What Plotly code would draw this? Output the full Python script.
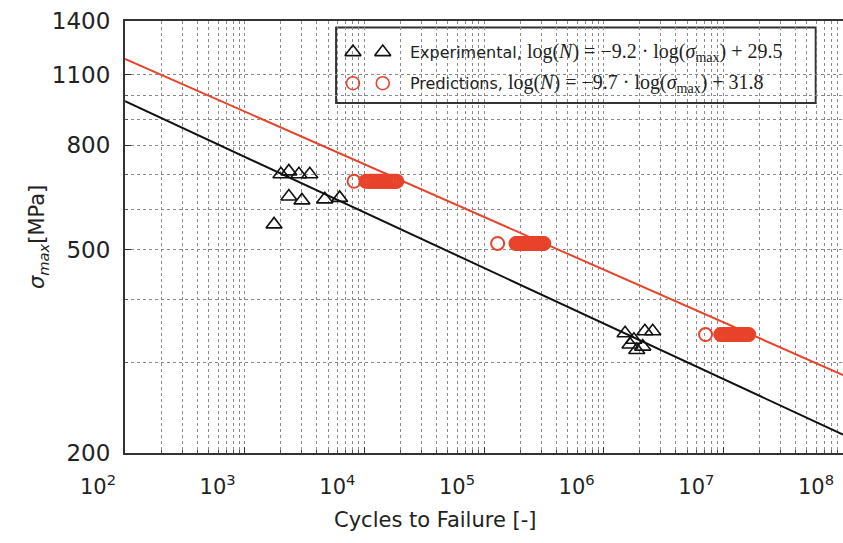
import numpy as np
import plotly.graph_objects as go

# ---- data -------------------------------------------------------------
# Experimental fatigue tests (cycles to failure, max stress in MPa)
exp_cycles = [2010, 2340, 2840, 3500, 2340, 3010, 4670, 6220, 1760,
              1.51e6, 2.21e6, 2.57e6, 1.66e6, 1.89e6, 2.12e6, 1.79e6]
exp_stress = [702, 711, 702, 702, 635, 624, 627, 631, 560,
              343, 346, 346, 326, 318, 323, 333]

# Model predictions at three stress levels
pred_cycles_hi = [8.2e3,
                  1.03e4, 1.06e4, 1.09e4, 1.12e4, 1.15e4, 1.19e4, 1.22e4, 1.26e4,
                  1.29e4, 1.33e4, 1.37e4, 1.41e4, 1.45e4, 1.49e4, 1.53e4, 1.58e4,
                  1.62e4, 1.67e4, 1.72e4, 1.77e4, 1.82e4, 1.87e4]
pred_cycles_mid = [1.30e5,
                   1.85e5, 1.90e5, 1.95e5, 2.00e5, 2.05e5, 2.10e5, 2.15e5, 2.21e5,
                   2.27e5, 2.33e5, 2.39e5, 2.45e5, 2.51e5, 2.57e5, 2.64e5, 2.71e5,
                   2.78e5, 2.85e5, 2.92e5, 3.00e5, 3.08e5, 3.16e5]
pred_cycles_lo = [7.1e6,
                  9.5e6, 9.75e6, 1.00e7, 1.025e7, 1.05e7, 1.08e7, 1.11e7, 1.14e7,
                  1.17e7, 1.20e7, 1.23e7, 1.26e7, 1.29e7, 1.32e7, 1.36e7, 1.40e7,
                  1.44e7, 1.47e7, 1.51e7, 1.55e7, 1.59e7, 1.63e7]
pred_stress_levels = [680, 514, 341]

# Basquin-type fits: log(N) = slope * log(sigma) + intercept
exp_slope, exp_intercept = -9.2, 29.5
pred_slope, pred_intercept = -9.7, 31.8

x_tick_vals = [1e2, 1e3, 1e4, 1e5, 1e6, 1e7, 1e8]
x_tick_text = ["10<sup>2</sup>", "10<sup>3</sup>", "10<sup>4</sup>", "10<sup>5</sup>",
               "10<sup>6</sup>", "10<sup>7</sup>", "10<sup>8</sup>"]
y_tick_vals = [200, 500, 800, 1100, 1400]
y_tick_text = ["200", "500", "800", "1100", "1400"]
y_minor_vals = [300, 400, 600, 700, 900, 1000]

RED = "#e8432b"
BLACK = "#111111"
SANS = "DejaVu Sans"
SERIF = "Liberation Serif"

x_minor_vals = [m * 10 ** k for k in range(2, 8) for m in range(2, 10)]

pred_cycles = pred_cycles_hi + pred_cycles_mid + pred_cycles_lo
pred_stress = ([pred_stress_levels[0]] * len(pred_cycles_hi)
               + [pred_stress_levels[1]] * len(pred_cycles_mid)
               + [pred_stress_levels[2]] * len(pred_cycles_lo))


def fit_stress(log_n, slope, intercept):
    return 10 ** ((log_n - intercept) / slope)


log_n_line = np.array([2.0, 8.0])

fig = go.Figure()

fig.add_trace(go.Scatter(
    x=10 ** log_n_line, y=fit_stress(log_n_line, exp_slope, exp_intercept),
    mode="lines", line=dict(color=BLACK, width=2), showlegend=False))
fig.add_trace(go.Scatter(
    x=10 ** log_n_line, y=fit_stress(log_n_line, pred_slope, pred_intercept),
    mode="lines", line=dict(color=RED, width=2), showlegend=False))

fig.add_trace(go.Scatter(
    x=exp_cycles, y=exp_stress, mode="markers",
    marker=dict(symbol="triangle-up-open", size=14, color=BLACK,
                line=dict(width=1.6, color=BLACK)),
    showlegend=False))
fig.add_trace(go.Scatter(
    x=pred_cycles, y=pred_stress, mode="markers",
    marker=dict(symbol="circle-open", size=13, color=RED,
                line=dict(width=2, color=RED)),
    showlegend=False))

# ---- legend drawn on an overlay axis (two markers per entry) ----------
leg_x = [0.3175, 0.359]
fig.add_trace(go.Scatter(
    x=leg_x, y=[0.928, 0.928], xaxis="x2", yaxis="y2", mode="markers",
    marker=dict(symbol="triangle-up-open", size=14, color=BLACK,
                line=dict(width=1.6, color=BLACK)),
    showlegend=False, hoverinfo="skip"))
fig.add_trace(go.Scatter(
    x=leg_x, y=[0.856, 0.856], xaxis="x2", yaxis="y2", mode="markers",
    marker=dict(symbol="circle-open", size=13, color=RED,
                line=dict(width=1.6, color=RED)),
    showlegend=False, hoverinfo="skip"))

fig.add_shape(type="rect", xref="paper", yref="paper",
              x0=0.294, x1=0.962, y0=0.81, y1=0.985,
              line=dict(color="#333333", width=2), fillcolor="white", layer="below")


def legend_label(name, slope, intercept):
    sign = "+" if intercept >= 0 else "−"
    return (f"{name}, <span style=\"font-family:{SERIF};font-size:20px\">log(<i>N</i>) = −{abs(slope):.1f} · "
            f"log(<i>σ</i><sub>max</sub>) {sign} {abs(intercept):.1f}</span>")


fig.add_annotation(xref="paper", yref="paper", x=0.394, y=0.928,
                   text=legend_label("Experimental", exp_slope, exp_intercept),
                   showarrow=False, xanchor="left", yanchor="middle",
                   font=dict(family=SANS, size=16, color="#222222"))
fig.add_annotation(xref="paper", yref="paper", x=0.394, y=0.856,
                   text=legend_label("Predictions", pred_slope, pred_intercept),
                   showarrow=False, xanchor="left", yanchor="middle",
                   font=dict(family=SANS, size=16, color="#222222"))

# ---- axis titles ------------------------------------------------------
fig.add_annotation(xref="paper", yref="paper", x=0.432, y=-0.155,
                   text="Cycles to Failure [-]", showarrow=False,
                   xanchor="center", yanchor="middle",
                   font=dict(family=SANS, size=21, color="#222222"))
fig.add_annotation(xref="paper", yref="paper", x=-0.121, y=0.5,
                   text="<i>σ</i><sub><i>max</i></sub>[MPa]", showarrow=False,
                   textangle=-90, xanchor="center", yanchor="middle",
                   font=dict(family=SANS, size=21, color="#222222"))

grid_style = dict(showgrid=True, gridcolor="#8a8a8a", griddash="dot", gridwidth=1)

fig.update_layout(
    width=843, height=543,
    margin=dict(l=125, r=0, t=21, b=90),
    paper_bgcolor="white", plot_bgcolor="white",
    font=dict(family=SANS, color="#222222"),
    showlegend=False,
    xaxis=dict(
        type="log", range=[2, 8],
        tickmode="array", tickvals=x_tick_vals, ticktext=x_tick_text,
        tickfont=dict(size=21), ticks="inside", ticklen=6, tickcolor="#333",
        ticklabelshift=-27, ticklabelstandoff=14,
        showline=True, linecolor="#333333", linewidth=2, mirror=True,
        zeroline=False,
        minor=dict(tickmode="array", tickvals=x_minor_vals, ticks="inside",
                   ticklen=3, tickcolor="#555", **grid_style),
        **grid_style),
    yaxis=dict(
        type="log", range=[np.log10(200), np.log10(1400)],
        tickmode="array", tickvals=y_tick_vals, ticktext=y_tick_text,
        tickfont=dict(size=23), ticks="inside", ticklen=6, tickcolor="#333",
        ticklabelstandoff=8,
        showline=True, linecolor="#333333", linewidth=2, mirror=False,
        zeroline=False,
        minor=dict(tickmode="array", tickvals=y_minor_vals, ticks="inside",
                   ticklen=3, tickcolor="#555", **grid_style),
        **grid_style),
    xaxis2=dict(overlaying="x", anchor="y2", range=[0, 1], visible=False),
    yaxis2=dict(overlaying="y", anchor="x2", range=[0, 1], visible=False),
)

fig.write_html("out.html")
